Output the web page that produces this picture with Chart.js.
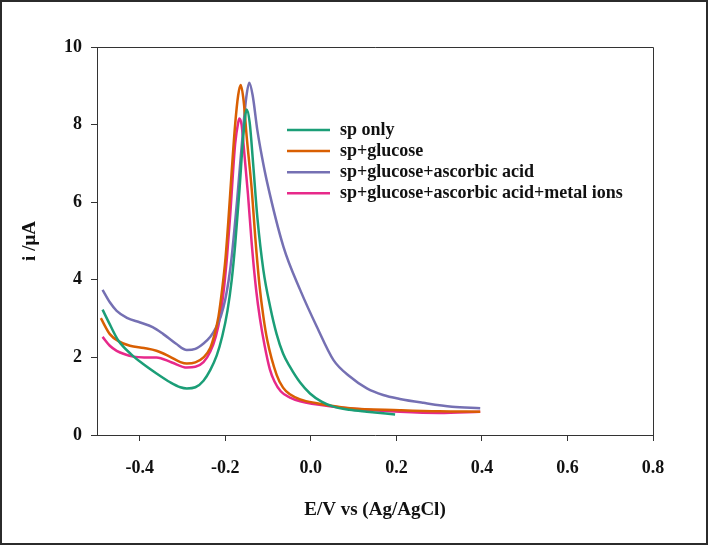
<!DOCTYPE html>
<html>
<head>
<meta charset="utf-8">
<script src="https://cdn.jsdelivr.net/npm/chart.js@4"></script>
<style>
  html, body { margin: 0; padding: 0; background: #fff; }
  #frame { width: 708px; height: 545px; box-sizing: border-box; border: 2px solid #2b2b2b; background: #fff; }
  canvas { display: block; }
</style>
</head>
<body>
<div id="frame"><canvas id="myChart" width="704" height="541"></canvas></div>
<script>
//Series: potential (V) and current (uA)
const spOnlyE = [-0.487, -0.470, -0.451, -0.420, -0.392, -0.360, -0.329, -0.305, -0.290, -0.270, -0.251, -0.235, -0.220, -0.207, -0.195, -0.185, -0.177, -0.167, -0.158, -0.150, -0.143, -0.135, -0.125, -0.111, -0.095, -0.080, -0.065, -0.049, -0.025, -0.002, 0.025, 0.053, 0.090, 0.131, 0.197];
const spOnlyI = [3.23, 2.85, 2.45, 2.08, 1.83, 1.58, 1.36, 1.23, 1.20, 1.23, 1.40, 1.68, 2.05, 2.55, 3.20, 4.00, 4.90, 6.30, 7.70, 8.39, 8.05, 7.00, 5.60, 4.25, 3.30, 2.60, 2.10, 1.76, 1.35, 1.07, 0.86, 0.73, 0.65, 0.60, 0.53];

const glucoseE = [-0.491, -0.470, -0.450, -0.423, -0.390, -0.361, -0.330, -0.305, -0.290, -0.270, -0.251, -0.235, -0.225, -0.216, -0.208, -0.200, -0.193, -0.185, -0.177, -0.170, -0.164, -0.157, -0.150, -0.138, -0.130, -0.120, -0.111, -0.102, -0.080, -0.065, -0.049, -0.025, 0.014, 0.092, 0.208, 0.300, 0.396];
const glucoseI = [3.01, 2.60, 2.42, 2.30, 2.24, 2.17, 2.02, 1.88, 1.84, 1.87, 2.00, 2.25, 2.60, 3.05, 3.70, 4.50, 5.50, 6.80, 8.00, 8.75, 9.02, 8.60, 7.69, 6.30, 5.10, 3.85, 3.05, 2.45, 1.55, 1.22, 1.05, 0.92, 0.82, 0.69, 0.64, 0.61, 0.60];

const ascorbicE = [-0.487, -0.470, -0.454, -0.430, -0.399, -0.370, -0.345, -0.315, -0.290, -0.270, -0.251, -0.235, -0.222, -0.210, -0.200, -0.192, -0.185, -0.172, -0.159, -0.151, -0.144, -0.136, -0.125, -0.114, -0.103, -0.064, -0.025, 0.014, 0.053, 0.092, 0.131, 0.169, 0.208, 0.263, 0.330, 0.396];
const ascorbicI = [3.74, 3.42, 3.20, 3.02, 2.90, 2.78, 2.60, 2.35, 2.19, 2.22, 2.36, 2.53, 2.76, 3.08, 3.50, 4.00, 4.60, 6.10, 7.80, 8.70, 9.08, 8.75, 7.85, 7.15, 6.55, 4.85, 3.74, 2.79, 1.93, 1.50, 1.20, 1.03, 0.93, 0.83, 0.73, 0.69];

const metalE = [-0.487, -0.470, -0.454, -0.435, -0.415, -0.390, -0.361, -0.325, -0.290, -0.270, -0.251, -0.235, -0.222, -0.212, -0.204, -0.196, -0.189, -0.177, -0.170, -0.167, -0.162, -0.159, -0.147, -0.138, -0.128, -0.119, -0.108, -0.096, -0.085, -0.070, -0.050, -0.025, 0.053, 0.120, 0.208, 0.300, 0.396];
const metalI = [2.53, 2.30, 2.17, 2.08, 2.02, 2.00, 2.00, 1.87, 1.74, 1.76, 1.88, 2.15, 2.55, 3.05, 3.70, 4.60, 5.60, 7.50, 8.05, 8.16, 8.00, 7.69, 6.20, 4.90, 3.75, 3.00, 2.30, 1.70, 1.38, 1.12, 0.97, 0.87, 0.73, 0.66, 0.60, 0.57, 0.60];

const seriesNames = ["sp only", "sp+glucose", "sp+glucose+ascorbic acid", "sp+glucose+ascorbic acid+metal ions"];
const xTicks = [-0.4, -0.2, 0.0, 0.2, 0.4, 0.6, 0.8];
const yTicks = [0, 2, 4, 6, 8, 10];

const colours = ['#1b9e77', '#d95f02', '#7570b3', '#e7298a'];
const serif = "'Liberation Serif', 'Times New Roman', serif";

//Turns a pair of arrays into {x, y} points
let pairs = (xs, ys) => xs.map((x, i) => ({x: x, y: ys[i]}));
const allSeries = [[spOnlyE, spOnlyI], [glucoseE, glucoseI], [ascorbicE, ascorbicI], [metalE, metalI]];

let datasets = allSeries.map((s, i) => ({
	label: seriesNames[i],
	data: pairs(s[0], s[1]),
	borderColor: colours[i],
	backgroundColor: colours[i],
	borderWidth: 2.5,
	pointRadius: 0,
	showLine: true,
	cubicInterpolationMode: 'monotone',
	fill: false
}));

//Draws the top and right edges of the box plus the legend inside the plot
const boxAndLegend = {
	id: 'boxAndLegend',
	afterDraw(chart) {
		const c = chart.ctx;
		const a = chart.chartArea;
		c.save();
		c.strokeStyle = '#333';
		c.lineWidth = 1;
		c.beginPath();
		c.moveTo(a.left, a.top + 0.5);
		c.lineTo(a.right + 0.5, a.top + 0.5);
		c.lineTo(a.right + 0.5, a.bottom);
		c.stroke();
		//legend rows
		c.font = "bold 18px " + serif;
		c.textBaseline = 'middle';
		c.fillStyle = '#111';
		chart.data.datasets.forEach((d, i) => {
			let y = 128 + i * 21.1;
			c.strokeStyle = d.borderColor;
			c.lineWidth = 2.5;
			c.beginPath();
			c.moveTo(285, y);
			c.lineTo(328, y);
			c.stroke();
			c.fillText(d.label, 338, y);
		});
		c.restore();
	}
};

const ctx = document.getElementById("myChart").getContext("2d");
let myChart = new Chart(ctx, {
	type: 'scatter',
	data: { datasets: datasets },
	options: {
		responsive: false,
		animation: false,
		layout: { padding: { top: 45, right: 53, left: 0, bottom: 0 } },
		scales: {
			x: {
				type: 'linear',
				min: -0.5,
				max: 0.8,
				afterBuildTicks: (s) => { s.ticks = xTicks.map(v => ({value: v})); },
				afterFit: (s) => { s.height = 108; },
				grid: { drawOnChartArea: false, drawTicks: true, tickLength: 6, color: '#333' },
				border: { display: true, color: '#333', width: 1 },
				ticks: {
					color: '#111',
					padding: 17,
					maxRotation: 0,
					font: { family: serif, size: 18, weight: 'bold' },
					callback: (v) => Number(v).toFixed(1)
				},
				title: {
					display: true,
					text: 'E/V vs (Ag/AgCl)',
					color: '#111',
					padding: { top: 0, bottom: 22 },
					font: { family: serif, size: 19, weight: 'bold' }
				}
			},
			y: {
				min: 0,
				max: 10,
				afterBuildTicks: (s) => { s.ticks = yTicks.map(v => ({value: v})); },
				afterFit: (s) => { s.width = 95; },
				grid: { drawOnChartArea: false, drawTicks: true, tickLength: 6, color: '#333' },
				border: { display: true, color: '#333', width: 1 },
				ticks: {
					color: '#111',
					padding: 9,
					font: { family: serif, size: 18, weight: 'bold' }
				},
				title: {
					display: true,
					text: 'i /μA',
					color: '#111',
					padding: { top: 17, bottom: 0 },
					font: { family: serif, size: 19, weight: 'bold' }
				}
			}
		},
		plugins: {
			legend: { display: false },
			tooltip: { enabled: false }
		}
	},
	plugins: [boxAndLegend]
});
</script>
</body>
</html>
